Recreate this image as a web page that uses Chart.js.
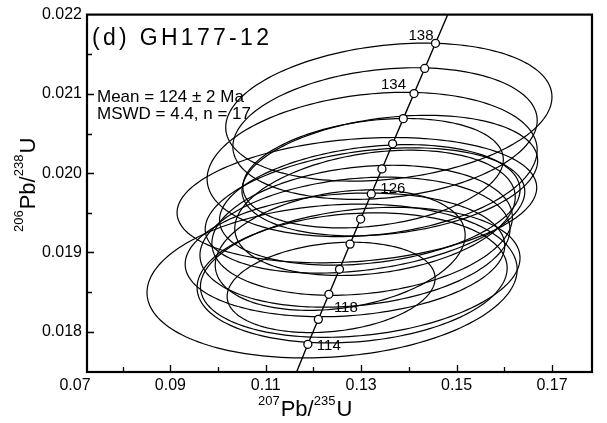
<!DOCTYPE html>
<html>
<head>
<meta charset="utf-8">
<script src="https://cdn.jsdelivr.net/npm/chart.js@4.4.1/dist/chart.umd.min.js"></script>
<style>
  html, body { margin: 0; padding: 0; background: #fff; }
  #wrap { width: 607px; height: 423px; }
</style>
</head>
<body>
<div id="wrap"><canvas id="chart" width="607" height="423"></canvas></div>
<script>
const FONT = '"Liberation Sans", Arial, Helvetica, sans-serif';

// Concordia ticks (age in Ma) and their ratios
const ages = [114, 116, 118, 120, 122, 124, 126, 128, 130, 132, 134, 136, 138];
const ageX = [0.11882, 0.12102, 0.12323, 0.12545, 0.12767, 0.12989, 0.13212, 0.13435, 0.13659, 0.13883, 0.14107, 0.14332, 0.14558];
const ageY = [0.017842, 0.018157, 0.018473, 0.018789, 0.019106, 0.019422, 0.019738, 0.020054, 0.020371, 0.020688, 0.021004, 0.021321, 0.021638];
const labeledAges = [114, 118, 126, 134, 138];

// where the curve leaves the plot (bottom and top edges)
const curveStart = [0.11644, 0.01749];
const curveEnd = [0.14815, 0.0220];

// Error ellipses: centre, half width / half height, correlation
const ellX = [0.1358, 0.1350, 0.1323, 0.1325, 0.1291, 0.1318, 0.1308, 0.1329, 0.1302, 0.1287, 0.1266, 0.1239, 0.1281, 0.1298, 0.1237, 0.1360, 0.1256];
const ellY = [0.02077, 0.02050, 0.02011, 0.02000, 0.01966, 0.01960, 0.01953, 0.01950, 0.01928, 0.01913, 0.01897, 0.01864, 0.01868, 0.01875, 0.01856, 0.01997, 0.01903];
const ellXErr = [0.0342, 0.0319, 0.0346, 0.0273, 0.0377, 0.0315, 0.0335, 0.0294, 0.0315, 0.0325, 0.0335, 0.0388, 0.0325, 0.0335, 0.0218, 0.0310, 0.0262];
const ellYErr = [0.00087, 0.00083, 0.00091, 0.00069, 0.00079, 0.00076, 0.00079, 0.00079, 0.00082, 0.00082, 0.00078, 0.00097, 0.00082, 0.00082, 0.00057, 0.00076, 0.00076];
const ellRho = [0.22, 0.20, 0.20, 0.25, 0.20, 0.25, 0.30, 0.25, 0.20, 0.20, 0.15, 0.15, 0.15, 0.22, 0.20, 0.25, 0.25];

// Axis ticks
const xTicks = [0.07, 0.09, 0.11, 0.13, 0.15, 0.17];
const xMinor = [0.08, 0.10, 0.12, 0.14, 0.16];
const yTicks = [0.018, 0.019, 0.020, 0.021, 0.022];
const yMinor = [0.0185, 0.0195, 0.0205, 0.0215];

// label placement next to the age markers [dx, dy, align]
const labelPos = {
  114: [9, 6, "left"],
  118: [5, 18, "left"],
  126: [9, -1, "left"],
  134: [-8, -5, "right"],
  138: [-2, -3, "right"]
};

const agePts = ages.map((a, i) => ({ x: ageX[i], y: ageY[i] }));
const curvePts = [{ x: curveStart[0], y: curveStart[1] }, ...agePts, { x: curveEnd[0], y: curveEnd[1] }];

// draw text made of pieces: [text, size, raise]
function drawParts(ctx, parts, x, y){
  parts.forEach(p => {
    ctx.font = `${p[1]}px ${FONT}`;
    ctx.fillText(p[0], x, y - p[2]);
    x += ctx.measureText(p[0]).width + (p[1] < 20 ? 1 : 0);
  });
}

const ellipsePlugin = {
  id: "ellipses",
  beforeDatasetsDraw(chart){
    const { ctx, chartArea: a, scales: { x, y } } = chart;
    ctx.save();
    ctx.beginPath();
    ctx.rect(a.left, a.top, a.right - a.left, a.bottom - a.top);
    ctx.clip();
    ctx.strokeStyle = "#000";
    ctx.lineWidth = 1.2;
    for(let k = 0; k < ellX.length; k++){
      const s = Math.sqrt(1 - ellRho[k] * ellRho[k]);
      ctx.beginPath();
      for(let i = 0; i <= 180; i++){
        const t = i / 180 * Math.PI * 2;
        const px = x.getPixelForValue(ellX[k] + ellXErr[k] * Math.cos(t));
        const py = y.getPixelForValue(ellY[k] + ellYErr[k] * (ellRho[k] * Math.cos(t) + s * Math.sin(t)));
        if(i === 0) ctx.moveTo(px, py); else ctx.lineTo(px, py);
      }
      ctx.closePath();
      ctx.stroke();
    }
    ctx.restore();
  }
};

const framePlugin = {
  id: "frame",
  afterDraw(chart){
    const { ctx, chartArea: a, scales: { x, y } } = chart;
    ctx.save();
    ctx.strokeStyle = "#000";
    ctx.fillStyle = "#000";

    // inward ticks
    ctx.lineWidth = 1.3;
    ctx.beginPath();
    xTicks.concat(xMinor).forEach(v => {
      const px = Math.round(x.getPixelForValue(v)) + 0.5;
      if(px < a.left + 2) return;
      const len = xMinor.includes(v) ? 5 : 7;
      ctx.moveTo(px, a.bottom);
      ctx.lineTo(px, a.bottom - len);
    });
    yTicks.concat(yMinor).forEach(v => {
      const py = Math.round(y.getPixelForValue(v)) + 0.5;
      if(py < a.top + 2) return;
      const len = yMinor.includes(v) ? 5 : 7;
      ctx.moveTo(a.left, py);
      ctx.lineTo(a.left + len, py);
    });
    ctx.stroke();

    ctx.lineWidth = 2.2;
    ctx.strokeRect(a.left, a.top, a.right - a.left, a.bottom - a.top);

    // age labels
    const meta = chart.getDatasetMeta(0);
    ctx.font = `15px ${FONT}`;
    labeledAges.forEach(age => {
      const i = ages.indexOf(age);
      const pt = meta.data[i];
      const lp = labelPos[age];
      ctx.textAlign = lp[2];
      ctx.textBaseline = "alphabetic";
      ctx.fillText(String(age), pt.x + lp[0], pt.y + lp[1]);
    });

    ctx.textAlign = "left";
    // sample name and result
    ctx.font = `23px ${FONT}`;
    if("letterSpacing" in ctx) ctx.letterSpacing = "3.3px";
    ctx.fillText("(d) GH177-12", a.left + 5, 45);
    if("letterSpacing" in ctx) ctx.letterSpacing = "0px";
    ctx.font = `17px ${FONT}`;
    ctx.fillText("Mean = 124 \u00b1 2 Ma", a.left + 10, 102);
    ctx.fillText("MSWD = 4.4, n = 17", a.left + 10, 119);

    // axis titles
    drawParts(ctx, [["207", 13, 11], ["Pb/", 22, 0], ["235", 13, 11], ["U", 22, 0]], 258, 416);
    ctx.translate(35, 232);
    ctx.rotate(-Math.PI / 2);
    drawParts(ctx, [["206", 13, 12], ["Pb/", 22, 0], ["238", 13, 12], ["U", 22, 0]], 0, 0);
    ctx.restore();
  }
};

const ctx = document.getElementById("chart");

new Chart(ctx, {
  type: "scatter",
  data: {
    datasets: [
      {
        data: agePts,
        showLine: false,
        pointRadius: 4,
        pointBackgroundColor: "#fff",
        pointBorderColor: "#000",
        pointBorderWidth: 1.3
      },
      {
        data: curvePts,
        showLine: true,
        borderColor: "#000",
        borderWidth: 1.4,
        pointRadius: 0
      }
    ]
  },
  options: {
    responsive: false,
    animation: false,
    events: [],
    layout: { padding: { left: 0, right: 15, top: 14, bottom: 0 } },
    plugins: {
      legend: { display: false },
      tooltip: { enabled: false }
    },
    scales: {
      x: {
        type: "linear",
        min: 0.07252,
        max: 0.17839,
        grid: { display: false, drawTicks: false },
        border: { display: false },
        afterBuildTicks: s => { s.ticks = xTicks.map(v => ({ value: v })); },
        afterFit: s => { s.height = 51; },
        ticks: {
          autoSkip: false,
          maxRotation: 0,
          padding: 4,
          color: "#000",
          font: { family: FONT, size: 16 },
          callback: v => v.toFixed(2)
        }
      },
      y: {
        type: "linear",
        min: 0.017493,
        max: 0.022,
        grid: { display: false, drawTicks: false },
        border: { display: false },
        afterBuildTicks: s => { s.ticks = yTicks.map(v => ({ value: v })); },
        afterFit: s => { s.width = 87; },
        ticks: {
          autoSkip: false,
          padding: 5,
          color: "#000",
          font: { family: FONT, size: 16 },
          callback: v => v.toFixed(3)
        }
      }
    }
  },
  plugins: [ellipsePlugin, framePlugin]
});
</script>
</body>
</html>
